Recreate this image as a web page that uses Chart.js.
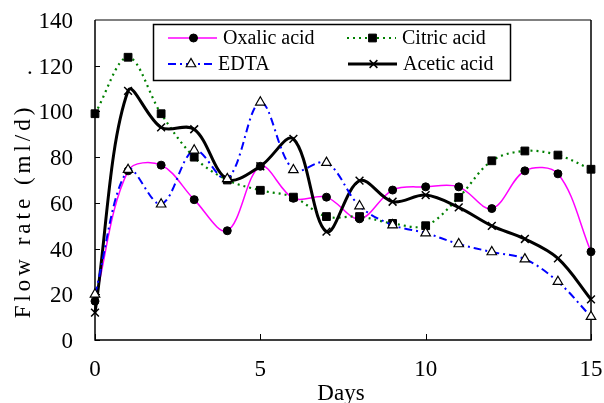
<!DOCTYPE html>
<html>
<head>
<meta charset="utf-8">
<script src="https://cdn.jsdelivr.net/npm/chart.js@4.4.0/dist/chart.umd.min.js"></script>
<style>
  html, body { margin: 0; padding: 0; background: #ffffff; }
  #wrap { width: 604px; height: 403px; position: relative; }
</style>
</head>
<body>
<div id="wrap"><canvas id="c" width="604" height="403"></canvas></div>
<script>
// ---- data ----
const days = [0, 1, 2, 3, 4, 5, 6, 7, 8, 9, 10, 11, 12, 13, 14, 15];
const oxalicAcid = [17, 74, 76.5, 61.4, 47.8, 76, 62, 62.5, 53, 65.6, 67, 67, 57.5, 74, 72.7, 38.6];
const citricAcid = [99, 123.7, 99, 80, 70, 65.5, 62.5, 54, 54, 51, 50, 62.4, 78.4, 82.7, 80.9, 74.7];
const edta = [20, 74.5, 59.4, 83, 70.5, 104, 74.4, 77.6, 58.6, 50.3, 46.8, 42, 38.5, 35.4, 25.5, 10.2];
const aceticAcid = [12, 109, 93, 92.2, 70.3, 76, 88, 47.4, 69.7, 60.5, 63.4, 58, 49.9, 44.2, 35.7, 17.8];
const seriesNames = ['Oxalic acid', 'Citric acid', 'EDTA', 'Acetic acid'];
const yTicks = [0, 20, 40, 60, 80, 100, 120, 140];
const xTicks = [0, 5, 10, 15];
const xTitle = 'Days';
const yTitle = 'Flow rate (ml/d)';

const FONT = "'Liberation Serif', 'DejaVu Serif', serif";
Chart.defaults.font.family = FONT;
const toPts = arr => days.map((d, i) => ({ x: d, y: arr[i] }));

const datasets = [
  { label: seriesNames[0], data: toPts(oxalicAcid), borderColor: '#FF00FF', borderWidth: 1.5,
    pointStyle: 'circle', pointRadius: 4, pointBackgroundColor: '#000', pointBorderColor: '#000', pointBorderWidth: 1, order: 3 },
  { label: seriesNames[1], data: toPts(citricAcid), borderColor: '#008000', borderWidth: 2.2, borderDash: [2, 4],
    pointStyle: 'rect', pointRadius: 5.5, pointBackgroundColor: '#000', pointBorderColor: '#000', pointBorderWidth: 1, order: 2 },
  { label: seriesNames[2], data: toPts(edta), borderColor: '#0000FF', borderWidth: 2, borderDash: [8, 4, 2, 4],
    pointStyle: 'triangle', pointRadius: 5.5, pointBackgroundColor: '#fff', pointBorderColor: '#000', pointBorderWidth: 1.2, order: 0 },
  { label: seriesNames[3], data: toPts(aceticAcid), borderColor: '#000', borderWidth: 3,
    pointStyle: 'crossRot', pointRadius: 5.5, pointBackgroundColor: '#000', pointBorderColor: '#000', pointBorderWidth: 1.5, order: 1 }
];
datasets.forEach(d => { d.tension = 0.35; d.fill = false; d.clip = false; });

function drawMarker(ctx, style, x, y, r, fill, stroke, bw) {
  ctx.save();
  ctx.setLineDash([]);
  ctx.lineWidth = bw;
  ctx.fillStyle = fill; ctx.strokeStyle = stroke;
  ctx.beginPath();
  if (style === 'circle') {
    ctx.arc(x, y, r, 0, Math.PI * 2); ctx.fill(); ctx.stroke();
  } else if (style === 'rect') {
    const s = Math.SQRT1_2 * r;
    ctx.rect(x - s, y - s, 2 * s, 2 * s); ctx.fill(); ctx.stroke();
  } else if (style === 'triangle') {
    const a = r * 3 / Math.sqrt(3), h = a * Math.sqrt(3) / 2;
    ctx.moveTo(x - a / 2, y + h / 3);
    ctx.lineTo(x + a / 2, y + h / 3);
    ctx.lineTo(x, y - 2 * h / 3);
    ctx.closePath(); ctx.fill(); ctx.stroke();
  } else if (style === 'crossRot') {
    const s = r * Math.SQRT1_2;
    ctx.moveTo(x - s, y - s); ctx.lineTo(x + s, y + s);
    ctx.moveTo(x + s, y - s); ctx.lineTo(x - s, y + s);
    ctx.stroke();
  }
  ctx.restore();
}

const decor = {
  id: 'decor',
  beforeDatasetsDraw(chart) {
    const { ctx, chartArea: a, scales } = chart;
    ctx.save();
    ctx.setLineDash([]);
    // inward tick marks
    ctx.strokeStyle = '#000'; ctx.lineWidth = 1;
    yTicks.forEach(v => {
      const py = Math.round(scales.y.getPixelForValue(v)) + 0.5;
      ctx.beginPath(); ctx.moveTo(a.left, py); ctx.lineTo(a.left + 5, py); ctx.stroke();
    });
    xTicks.forEach(v => {
      const px = Math.round(scales.x.getPixelForValue(v)) + 0.5;
      ctx.beginPath(); ctx.moveTo(px, a.bottom); ctx.lineTo(px, a.bottom - 6); ctx.stroke();
    });
    // frame
    ctx.strokeStyle = '#808080'; ctx.lineWidth = 2;
    ctx.beginPath(); ctx.moveTo(a.left, a.top); ctx.lineTo(a.right, a.top); ctx.stroke();
    ctx.strokeStyle = '#000'; ctx.lineWidth = 1.5;
    ctx.beginPath();
    ctx.moveTo(a.left, a.top); ctx.lineTo(a.left, a.bottom); ctx.lineTo(a.right, a.bottom); ctx.lineTo(a.right, a.top);
    ctx.stroke();
    ctx.restore();
  },
  afterDraw(chart) {
    const { ctx } = chart;
    ctx.save();
    // axis titles
    ctx.fillStyle = '#000';
    ctx.font = '23px ' + FONT;
    ctx.textAlign = 'center'; ctx.textBaseline = 'alphabetic';
    ctx.fillText(xTitle, 341, 400);
    ctx.save();
    ctx.translate(30, 211);
    ctx.rotate(-Math.PI / 2);
    try { ctx.letterSpacing = '4px'; } catch (e) {}
    ctx.textBaseline = 'alphabetic';
    ctx.fillText(yTitle, 0, 0);
    ctx.restore();

    // legend box
    const bx = 153, by = 24, bw = 357, bh = 56;
    ctx.fillStyle = '#fff';
    ctx.fillRect(bx, by, bw, bh);
    ctx.strokeStyle = '#000'; ctx.lineWidth = 1.5; ctx.setLineDash([]);
    ctx.strokeRect(bx + 0.5, by + 0.5, bw, bh);
    const slots = [
      { x0: 168, x1: 217, ty: 38 }, { x0: 347, x1: 396, ty: 38 },
      { x0: 168, x1: 212, ty: 64 }, { x0: 348, x1: 397, ty: 64 }
    ];
    chart.data.datasets.forEach((d, i) => {
      const s = slots[i];
      ctx.save();
      ctx.strokeStyle = d.borderColor; ctx.lineWidth = d.borderWidth;
      ctx.setLineDash(d.borderDash || []);
      ctx.beginPath(); ctx.moveTo(s.x0, s.ty); ctx.lineTo(s.x1, s.ty); ctx.stroke();
      ctx.restore();
      drawMarker(ctx, d.pointStyle, (s.x0 + s.x1) / 2 + 1, s.ty, d.pointRadius,
        d.pointBackgroundColor, d.pointBorderColor, d.pointBorderWidth);
      ctx.fillStyle = '#000';
      ctx.font = '20px ' + FONT;
      ctx.textAlign = 'left'; ctx.textBaseline = 'middle';
      ctx.fillText(d.label, s.x1 + 6, s.ty + 1);
    });
    ctx.restore();
  }
};

function noPad(s) { s.paddingTop = 0; s.paddingBottom = 0; s.paddingLeft = 0; s.paddingRight = 0; }

new Chart(document.getElementById('c'), {
  type: 'line',
  data: { datasets },
  options: {
    responsive: false,
    animation: false,
    devicePixelRatio: 1,
    layout: { padding: { top: 20, right: 13, left: 0, bottom: 0 } },
    plugins: { legend: { display: false }, tooltip: { enabled: false } },
    scales: {
      x: {
        type: 'linear', min: 0, max: 15,
        afterBuildTicks: s => { s.ticks = xTicks.map(v => ({ value: v })); },
        afterFit: s => { s.height = 63; noPad(s); },
        grid: { display: false, drawTicks: false },
        border: { display: false },
        ticks: { color: '#000', font: { family: FONT, size: 23 }, padding: 16, maxRotation: 0 }
      },
      y: {
        type: 'linear', min: 0, max: 140,
        afterBuildTicks: s => { s.ticks = yTicks.map(v => ({ value: v })); },
        afterFit: s => { s.width = 95; noPad(s); },
        grid: { display: false, drawTicks: false },
        border: { display: false },
        ticks: { color: '#000', font: { family: FONT, size: 23 }, padding: 22, labelOffset: 2,
          callback: v => (v === 120 ? '. ' + v : String(v)) }
      }
    }
  },
  plugins: [decor]
});
</script>
</body>
</html>
